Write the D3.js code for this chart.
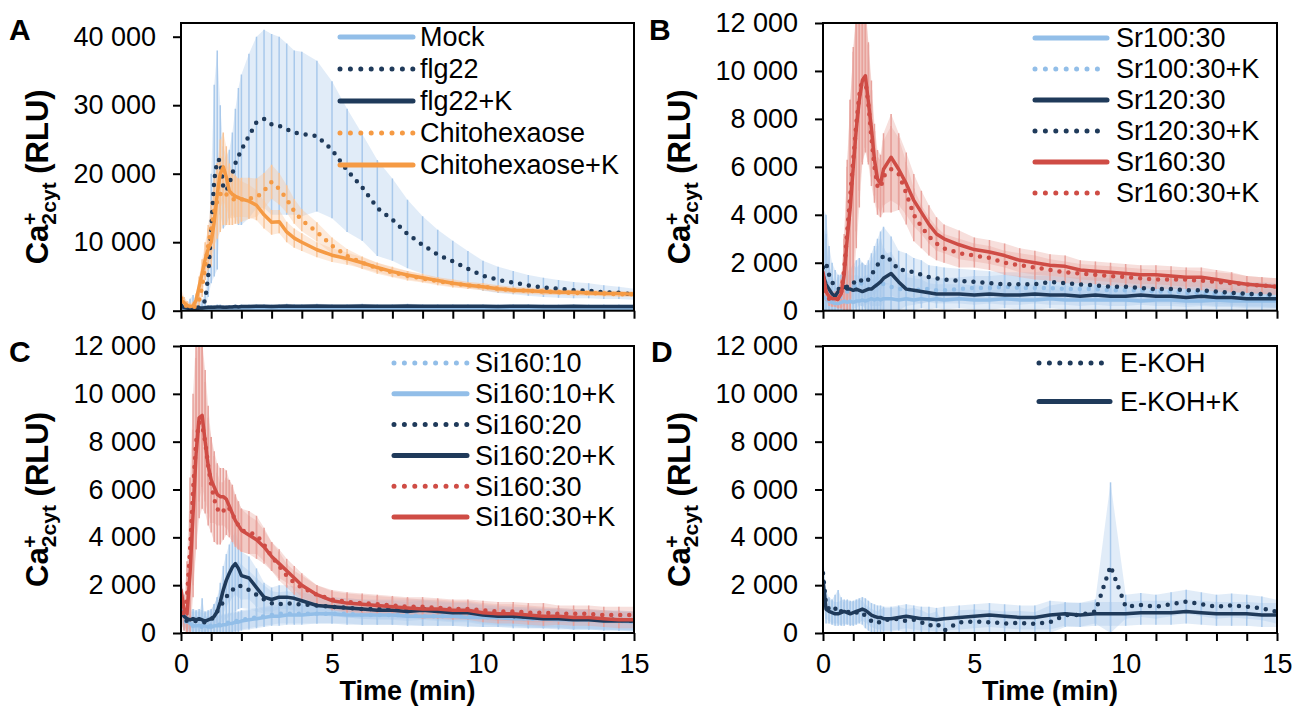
<!DOCTYPE html>
<html>
<head>
<meta charset="utf-8">
<script src="https://cdn.jsdelivr.net/npm/d3@7"></script>
<style>
  body { margin: 0; background: #fff; }
  svg { display: block; font-family: "Liberation Sans", Arial, sans-serif; }
</style>
</head>
<body>
<div id="chart"></div>
<script>
// Time points (min) shared by every trace
const minutes = [0, 0.1, 0.2, 0.3, 0.4, 0.5, 0.6, 0.7, 0.8, 0.9, 1.0, 1.1, 1.2, 1.3, 1.4, 1.5, 1.6, 1.7, 1.8, 1.9,
  2.0, 2.25, 2.5, 2.75, 3.0, 3.25, 3.5, 3.75, 4.0, 4.5, 5.0, 5.5, 6.0, 6.5, 7.0, 7.5, 8.0, 8.5, 9.0, 9.5,
  10, 10.5, 11, 11.5, 12, 12.5, 13, 13.5, 14, 14.5, 15];

const xMinorTicks = [0, 1, 2, 3, 4, 5, 6, 7, 8, 9, 10, 11, 12, 13, 14, 15];
const xLabelTicks = [0, 5, 10, 15];
const yTicksA = [0, 10000, 20000, 30000, 40000];
const yTicksSmall = [0, 2000, 4000, 6000, 8000, 10000, 12000];

// Panel A
const mock = [300,250,200,250,300,400,350,300,250,300, 350,300,250,300,280,300,250,260,280,300, 250,270,280,260,250,270,260,250,240,260, 250,240,230,250,240,230,240,230,220,230, 240,230,220,230,220,230,220,210,220,210, 220];
const mockErr = [700,600,800,1500,2000,1200,800,600,500,400, 400,350,300,300,300,300,300,300,300,300, 300,300,300,300,300,300,300,300,300,300, 300,300,300,300,300,300,300,300,300,300, 300,300,300,300,300,300,300,300,300,300, 300];
const flg22 = [800,600,400,300,300,400,500,800,1500,5000, 12000,19000,22000,22000,18000,17500,18500,20000,21500,22500, 23500,25500,27500,28000,27200,27000,26500,26000,25800,25500, 23500,20500,18000,15000,13300,11200,9600,8200,7200,6100, 5100,4500,4100,3700,3400,3200,3000,2900,2700,2600, 2400];
const flg22Err = [600,500,400,500,800,1000,900,800,1000,3000, 8000,14000,16000,8000,6000,5000,5000,6000,8000,10000, 11000,12000,12500,13000,13200,13000,12500,12000,12000,11000, 10000,9000,7800,7000,6000,5000,4200,3600,3000,2600, 2200,1900,1700,1500,1400,1300,1200,1100,1000,900, 800];
const flg22K = [600,500,400,350,300,350,400,400,450,500, 500,500,550,550,500,500,550,550,600,550, 600,600,650,650,600,650,700,650,650,700, 650,650,700,650,650,700,650,650,650,650, 650,600,650,650,600,600,650,600,600,600, 600];
const flg22KErr = [500,400,300,300,300,300,300,300,300,300, 300,300,350,350,300,300,300,300,300,300, 300,300,300,300,300,300,300,300,300,300, 300,300,300,300,300,300,300,300,300,300, 300,300,300,300,300,300,300,300,300,300, 300];
const chito = [1800,1000,600,500,500,700,1500,3500,6500,9500, 12000,14500,16000,17000,17500,17000,16500,16300,16200,16000, 16200,16400,16500,17500,18800,17800,16300,14500,13200,11500, 9500,8000,7000,6200,5600,5100,4700,4300,4000,3700, 3500,3200,3000,2900,2800,2700,2600,2600,2500,2400, 2400];
const chitoErr = [1500,1000,600,500,500,600,1000,1500,2000,3000, 4000,5000,5500,5500,5000,4500,4000,3800,3500,3300, 3200,3000,2800,2600,2500,2300,2000,1800,1600,1400, 1200,1000,900,800,700,700,600,600,600,500, 500,500,500,500,500,400,400,400,400,400, 400];
const chitoK = [1500,1200,800,600,700,1500,3500,5500,7500,9000, 10000,13000,17000,20000,21000,19500,17500,17000,16700,16500, 16300,16000,15400,14000,12900,13000,11500,10600,10000,8900, 8100,7600,7000,6300,5700,5200,4800,4400,4000,3700, 3500,3200,3000,2900,2800,2700,2700,2600,2500,2500, 2400];
const chitoKErr = [1000,800,600,500,600,1000,1500,2000,2500,3000, 3500,4000,4500,5000,5000,4500,4000,3500,3000,2800, 2600,2400,2200,2000,1800,1700,1500,1400,1300,1100, 1000,900,800,700,700,600,600,500,500,500, 500,500,400,400,400,400,400,400,400,400, 400];

// Panel B
const sr100 = [600,500,400,350,300,300,350,400,350,400, 350,400,400,450,400,450,500,450,500,450, 500,500,450,500,450,500,450,500,450,500, 450,450,500,450,450,500,450,450,450,450, 450,400,450,450,400,400,450,400,400,400, 400];
const sr100Err = [1500,2500,1500,800,600,500,500,500,600,700, 800,700,600,600,600,700,800,900,1000,800, 700,600,500,500,500,400,400,400,400,400, 400,400,400,400,400,400,400,400,400,400, 400,400,400,400,400,400,400,400,400,400, 400];
const sr100K = [1500,1200,800,500,400,500,600,700,800,900, 1000,1100,1200,1100,1000,900,900,1000,1100,1200, 1100,1000,900,900,850,900,900,850,850,900, 950,950,1000,950,950,950,900,900,900,850, 850,850,800,800,750,750,700,700,650,650, 600];
const sr100KErr = [2000,2000,1200,800,600,600,600,700,800,900, 900,1000,1000,900,900,1000,1200,1400,1600,1800, 1500,1200,900,700,600,600,500,500,500,500, 500,500,500,500,500,500,500,500,500,500, 500,500,500,500,500,500,500,500,500,500, 500];
const sr120 = [1500,1100,900,700,600,800,900,1000,900,900, 850,900,850,800,850,900,900,1000,1100,1200, 1350,1550,1200,900,850,800,750,700,700,700, 650,700,650,650,700,650,650,600,650,600, 600,650,600,600,550,600,550,550,500,500, 500];
const sr120Err = [2000,1500,1000,800,600,600,600,600,600,600, 600,600,600,600,600,600,700,800,900,1000, 1000,900,700,500,500,500,400,400,400,400, 400,400,400,400,400,400,400,400,400,400, 400,400,400,400,400,400,400,400,400,400, 400];
const sr120K = [1800,2000,1500,1200,1000,900,900,1000,1000,1100, 1200,1100,1200,1300,1200,1300,1500,1700,1900,2100, 2300,2100,1700,1700,1600,1500,1400,1350,1300,1250, 1200,1150,1100,1100,1100,1200,1150,1100,1050,1000, 1000,950,900,900,850,850,800,750,700,700, 650];
const sr120KErr = [2500,2000,1200,800,700,600,600,600,600,600, 700,700,700,700,700,800,900,1000,1100,1200, 1200,1000,800,700,600,600,500,500,500,500, 500,500,500,500,500,500,500,500,500,500, 500,500,500,500,500,500,500,500,500,500, 500];
const sr160 = [1600,800,600,500,500,500,700,1500,3000,4300, 6000,7600,8800,9600,9800,8700,7600,6300,5500,5300, 5900,6400,5900,5300,4600,4100,3600,3200,3000,2750, 2550,2450,2300,2100,2000,1900,1850,1700,1650,1600, 1550,1500,1500,1450,1400,1400,1300,1200,1100,1050, 1000];
const sr160Err = [500,400,300,300,300,400,600,1500,3000,4500, 5000,5000,4500,3500,3000,2500,2000,1500,1200,1200, 1500,1800,1500,1300,1100,900,800,700,600,600, 500,500,500,500,500,450,450,400,400,400, 400,400,400,400,400,400,400,400,350,350, 350];
const sr160K = [1200,700,500,450,450,500,700,1700,3300,4800, 6300,7800,9000,9700,9600,8600,7200,6000,5200,5100, 5600,5900,5700,4900,4000,3500,3100,2800,2600,2400, 2300,2200,2000,1900,1800,1700,1600,1550,1500,1450, 1400,1350,1300,1300,1300,1250,1200,1150,1100,1050, 1000];
const sr160KErr = [400,300,300,300,300,400,600,1500,3000,4000, 4500,4500,4000,3500,3000,2500,2000,1500,1200,1200, 1500,1800,1500,1300,1100,900,800,700,600,600, 500,500,500,500,500,450,450,400,400,400, 400,400,400,400,400,400,400,400,350,350, 350];

// Panel C
const si10 = [1200,600,400,300,300,300,300,250,300,300, 300,300,350,350,400,400,450,450,500,500, 550,600,650,700,750,800,800,800,800,800, 800,800,750,750,750,750,700,700,700,700, 650,650,650,600,600,600,550,550,550,500, 500];
const si10Err = [600,500,400,400,400,400,400,1200,400,400, 400,900,400,400,400,400,400,400,400,400, 400,400,400,400,400,400,400,400,400,400, 400,400,400,400,400,400,400,400,400,400, 400,400,400,400,400,400,400,400,400,400, 400];
const si10K = [1800,800,500,400,300,300,300,300,300,250, 250,300,300,300,350,350,400,400,450,450, 500,550,600,650,700,700,750,750,750,800, 800,750,750,750,750,700,700,700,700,650, 650,650,600,600,600,550,550,550,500,500, 450];
const si10KErr = [800,500,400,400,400,400,400,400,400,400, 400,400,400,400,400,400,400,400,400,400, 400,400,400,400,400,400,400,400,400,400, 400,400,400,400,400,400,400,400,400,400, 400,400,400,400,400,400,400,400,400,400, 400];
const si20 = [800,600,500,500,500,500,500,450,450,500, 550,700,900,1100,1300,1500,1700,1800,1900,2000, 1950,1800,1600,1400,1250,1200,1250,1200,1200,1150, 1100,1050,1000,1000,1000,1000,1000,950,900,900, 800,750,700,700,650,650,600,600,550,550, 500];
const si20Err = [500,400,400,400,400,400,400,400,400,400, 400,500,600,700,800,900,1000,1000,1000,1000, 900,800,700,600,500,500,500,500,500,400, 400,400,400,400,400,400,400,400,400,400, 400,400,400,400,400,400,400,400,400,400, 400];
const si20K = [900,700,600,550,600,550,600,550,500,550, 600,700,900,1300,1800,2200,2500,2750,2900,2700, 2400,2300,1900,1500,1400,1500,1500,1450,1350,1150, 1100,1050,1000,950,950,900,950,900,850,850, 750,700,700,650,600,600,550,550,500,500, 500];
const si20KErr = [500,400,400,400,400,400,400,400,400,400, 400,500,600,800,1000,1100,1200,1300,1300,1200, 1000,900,800,600,500,500,500,500,500,400, 400,400,400,400,400,400,400,400,400,400, 400,400,400,400,400,400,400,400,400,400, 400];
const si30 = [1200,700,1500,3500,6000,8000,8800,8700,8000,7000, 6200,5600,5200,5000,5100,5300,5200,5000,4700,4500, 4300,4200,4100,3700,3200,2800,2400,2100,1900,1600, 1400,1300,1250,1200,1150,1100,1100,1050,1000,1000, 950,900,900,850,850,800,800,800,750,750, 750];
const si30Err = [800,600,1500,3000,4000,4500,4000,3500,3000,2500, 2000,1800,1500,1300,1200,1200,1200,1200,1100,1000, 900,900,800,700,600,600,500,500,500,400, 400,400,400,400,400,400,400,400,400,400, 400,400,400,400,400,350,350,350,350,350, 350];
const si30K = [1800,1000,800,2500,5000,7500,9000,9100,8000,7000, 6400,6100,5800,5700,5700,5600,5300,5000,4700,4500, 4300,4100,3900,3600,3200,2900,2600,2300,2000,1600, 1350,1250,1200,1150,1100,1050,1000,1000,950,950, 850,800,800,750,700,700,650,650,600,550, 550];
const si30KErr = [800,600,1000,2500,3500,4000,3500,3000,2500,2000, 1800,1500,1300,1200,1200,1200,1100,1100,1000,1000, 900,800,800,700,600,600,500,500,500,400, 400,400,400,400,400,400,400,400,400,400, 400,400,400,400,400,350,350,350,350,350, 350];

// Panel D
const ekoh = [2500,1200,1000,900,1000,1100,900,800,900,850, 800,850,900,850,700,600,500,450,400,500, 550,550,600,500,550,450,300,400,100,450, 480,450,400,420,380,450,750,760,900,2800, 1100,1170,1100,1200,1310,1200,1100,1150,1100,1030, 890];
const ekohErr = [800,600,500,500,600,700,600,500,500,500, 500,500,500,500,500,500,500,500,500,500, 500,500,500,500,500,500,500,500,300,500, 500,500,500,500,500,700,500,500,500,3500, 500,500,500,500,500,500,500,500,500,500, 500];
const ekohK = [2200,1000,900,850,800,800,850,900,850,800, 850,900,950,1000,950,850,750,700,650,650, 600,600,650,700,650,600,600,550,600,650, 700,750,700,650,650,750,800,750,800,800, 800,850,850,850,900,850,800,800,800,750, 750];
const ekohKErr = [1000,600,500,500,500,500,500,500,500,500, 500,500,500,500,500,500,500,500,500,500, 500,500,500,500,500,500,500,500,500,500, 500,500,500,500,500,600,500,500,500,500, 500,500,500,500,500,500,500,500,500,500, 500];

// Colours
const lineColor = { light: "#92BEE8", navy: "#1F3A5A", orange: "#F59A44", red: "#CF4C45" };
const errColor = { light: "#A9C9EB", navy: "#A9C9EB", orange: "#F8C497", red: "#E8A29C" };

function trace(label, mean, err, color, dotted) {
  return { label, mean, err, color, dotted };
}

const panels = [
  {
    letter: "A", lx: 9, ly: 40,
    left: 181, right: 634, top: 23, bottom: 310.7, yMax: 42000, yTicks: yTicksA, xLabels: false,
    legend: { x1: 340, x2: 413, tx: 420, y: 37, step: 32 },
    series: [
      trace("Mock", mock, mockErr, "light", false),
      trace("flg22", flg22, flg22Err, "navy", true),
      trace("flg22+K", flg22K, flg22KErr, "navy", false),
      trace("Chitohexaose", chito, chitoErr, "orange", true),
      trace("Chitohexaose+K", chitoK, chitoKErr, "orange", false)
    ]
  },
  {
    letter: "B", lx: 649, ly: 40,
    left: 823, right: 1277, top: 23, bottom: 310.7, yMax: 12000, yTicks: yTicksSmall, xLabels: false,
    legend: { x1: 1035, x2: 1107, tx: 1116, y: 38, step: 31 },
    series: [
      trace("Sr100:30", sr100, sr100Err, "light", false),
      trace("Sr100:30+K", sr100K, sr100KErr, "light", true),
      trace("Sr120:30", sr120, sr120Err, "navy", false),
      trace("Sr120:30+K", sr120K, sr120KErr, "navy", true),
      trace("Sr160:30", sr160, sr160Err, "red", false),
      trace("Sr160:30+K", sr160K, sr160KErr, "red", true)
    ]
  },
  {
    letter: "C", lx: 9, ly: 362,
    left: 181, right: 634, top: 346, bottom: 633, yMax: 12000, yTicks: yTicksSmall, xLabels: true,
    legend: { x1: 394, x2: 467, tx: 475, y: 363, step: 30.8 },
    series: [
      trace("Si160:10", si10, si10Err, "light", true),
      trace("Si160:10+K", si10K, si10KErr, "light", false),
      trace("Si160:20", si20, si20Err, "navy", true),
      trace("Si160:20+K", si20K, si20KErr, "navy", false),
      trace("Si160:30", si30, si30Err, "red", true),
      trace("Si160:30+K", si30K, si30KErr, "red", false)
    ]
  },
  {
    letter: "D", lx: 651, ly: 362,
    left: 823, right: 1277, top: 346, bottom: 633, yMax: 12000, yTicks: yTicksSmall, xLabels: true,
    legend: { x1: 1039, x2: 1110, tx: 1120, y: 363, step: 38.5 },
    series: [
      trace("E-KOH", ekoh, ekohErr, "navy", true),
      trace("E-KOH+K", ekohK, ekohKErr, "navy", false)
    ]
  }
];

const fmt = (v) => d3.format(",")(v).replace(/,/g, " ");

const svg = d3.select("#chart")
  .append("svg")
  .attr("width", 1295)
  .attr("height", 710);

panels.forEach((p, i) => {
  const x = d3.scaleLinear().domain([0, 15]).range([p.left, p.right]);
  const y = d3.scaleLinear().domain([0, p.yMax]).range([p.bottom, p.top]);
  const g = svg.append("g");

  svg.append("clipPath")
    .attr("id", "clip" + i)
    .append("rect")
    .attr("x", p.left)
    .attr("y", p.top)
    .attr("width", p.right - p.left)
    .attr("height", p.bottom - p.top);

  const plot = g.append("g").attr("clip-path", `url(#clip${i})`);

  // error bars first, under every line
  p.series.forEach((s) => {
    const pts = minutes.map((t, j) => ({ t, m: s.mean[j], e: s.err[j] }));
    plot.append("path")
      .datum(pts)
      .attr("fill", errColor[s.color])
      .attr("fill-opacity", 0.35)
      .attr("d", d3.area()
        .x((d) => x(d.t))
        .y0((d) => y(Math.max(0, d.m - d.e)))
        .y1((d) => y(d.m + d.e)));
    plot.selectAll(null)
      .data(pts)
      .join("line")
      .attr("x1", (d) => x(d.t))
      .attr("x2", (d) => x(d.t))
      .attr("y1", (d) => y(Math.max(0, d.m - d.e)))
      .attr("y2", (d) => y(d.m + d.e))
      .attr("stroke", errColor[s.color])
      .attr("stroke-width", 1.5);
  });

  // mean traces
  const line = d3.line().x((d) => x(d.t)).y((d) => y(d.m));
  p.series.forEach((s) => {
    const pts = minutes.map((t, j) => ({ t, m: s.mean[j] }));
    plot.append("path")
      .datum(pts)
      .attr("fill", "none")
      .attr("stroke", lineColor[s.color])
      .attr("stroke-width", s.dotted ? 4.5 : 3.5)
      .attr("stroke-linecap", "round")
      .attr("stroke-linejoin", "round")
      .attr("stroke-dasharray", s.dotted ? "0 9" : null)
      .attr("d", line);
  });

  // frame
  g.append("rect")
    .attr("x", p.left)
    .attr("y", p.top)
    .attr("width", p.right - p.left)
    .attr("height", p.bottom - p.top)
    .attr("fill", "none")
    .attr("stroke", "#000")
    .attr("stroke-width", 2);

  // axes
  const yAxis = g.append("g")
    .attr("transform", `translate(${p.left},0)`)
    .call(d3.axisLeft(y).tickValues(p.yTicks).tickSize(8).tickPadding(17).tickFormat(fmt));
  const xAxis = g.append("g")
    .attr("transform", `translate(0,${p.bottom})`)
    .call(d3.axisBottom(x).tickValues(xMinorTicks).tickSize(8).tickPadding(13)
      .tickFormat((d) => (p.xLabels && xLabelTicks.includes(d) ? d : "")));
  [yAxis, xAxis].forEach((a) => {
    a.select(".domain").remove();
    a.selectAll("line").attr("stroke", "#000").attr("stroke-width", 2);
    a.selectAll("text")
      .attr("fill", "#000")
      .style("font-size", "27px")
      .style("font-family", '"Liberation Sans", Arial, sans-serif');
  });

  // y title: Ca2+cyt (RLU)
  const cy = (p.top + p.bottom) / 2 + 10;
  const tx = p.left - 133;
  const title = g.append("text")
    .attr("transform", `translate(${tx},${cy}) rotate(-90)`)
    .attr("text-anchor", "middle")
    .style("font-size", "31px")
    .style("font-weight", "bold");
  title.append("tspan").text("Ca");
  title.append("tspan").attr("dy", 8).style("font-size", "21px").text("2");
  title.append("tspan").attr("dx", -12).attr("dy", -19).style("font-size", "21px").text("+");
  title.append("tspan").attr("dy", 19).style("font-size", "21px").text("cyt");
  title.append("tspan").attr("dy", -8).text(" (RLU)");

  if (p.xLabels) {
    g.append("text")
      .attr("x", (p.left + p.right) / 2)
      .attr("y", 700)
      .attr("text-anchor", "middle")
      .style("font-size", "27px")
      .style("font-weight", "bold")
      .text("Time (min)");
  }

  // panel letter
  g.append("text")
    .attr("x", p.lx)
    .attr("y", p.ly)
    .style("font-size", "30px")
    .style("font-weight", "bold")
    .text(p.letter);

  // legend
  const lg = g.append("g");
  p.series.forEach((s, k) => {
    const ry = p.legend.y + k * p.legend.step;
    lg.append("line")
      .attr("x1", p.legend.x1)
      .attr("x2", p.legend.x2)
      .attr("y1", ry)
      .attr("y2", ry)
      .attr("stroke", lineColor[s.color])
      .attr("stroke-width", 5)
      .attr("stroke-linecap", "round")
      .attr("stroke-dasharray", s.dotted ? "0 10.4" : null);
    lg.append("text")
      .attr("x", p.legend.tx)
      .attr("y", ry)
      .attr("dy", "0.35em")
      .style("font-size", "27px")
      .text(s.label);
  });
});
</script>
</body>
</html>
